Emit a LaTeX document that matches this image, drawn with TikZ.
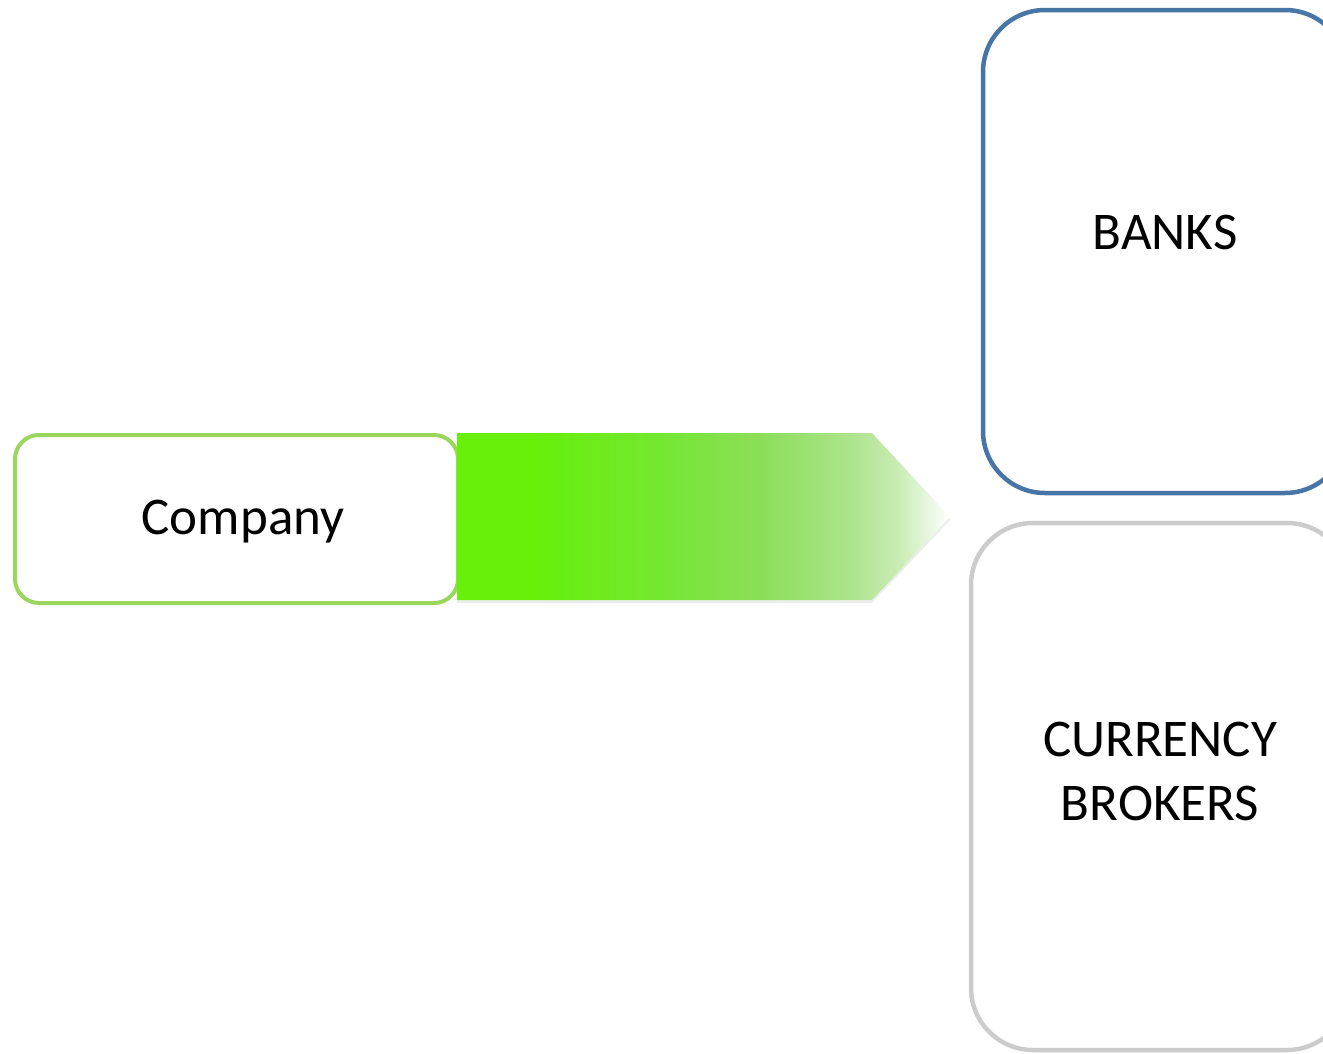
\documentclass[tikz,border=0pt]{standalone}
\usepackage{fontspec}
\setmainfont{Carlito}
\usetikzlibrary{shadows}

% colours
\definecolor{boxgreen}{RGB}{155,214,92}
\definecolor{bankblue}{RGB}{71,117,165}
\definecolor{brokergray}{RGB}{204,204,204}
\definecolor{arrowgreen}{RGB}{102,240,10}
\definecolor{fadeA}{RGB}{115,232,45}
\definecolor{fadeB}{RGB}{140,222,90}
\definecolor{fadeC}{RGB}{172,228,140}
\definecolor{fadeD}{RGB}{202,236,182}

% left-to-right fade of the flow arrow (25bp = left edge, 75bp = tip)
\pgfdeclarehorizontalshading{flowfade}{100bp}{
  color(0bp)=(arrowgreen);
  color(25bp)=(arrowgreen);
  color(32.6bp)=(arrowgreen);
  color(44.7bp)=(fadeA);
  color(55.8bp)=(fadeB);
  color(64.9bp)=(fadeC);
  color(69.9bp)=(fadeD);
  color(75bp)=(white);
  color(100bp)=(white)}

\begin{document}
\begin{tikzpicture}[x=1pt,y=-1pt,
  every node/.style={font=\fontsize{53}{64}\selectfont},
  panel/.style={draw, line width=4.5pt, rounded corners=62pt, fill=white, inner sep=0pt},
  sourcebox/.style={draw=boxgreen, line width=4pt, rounded corners=24pt, fill=white,
    minimum width=443pt, minimum height=168pt, inner sep=0pt},
  caption/.style={align=center, inner sep=0pt}]
\useasboundingbox (0,0) rectangle (1323,1053);

% source
\node[sourcebox] (company) at (236.5,519) {};
\node[caption] (company-text) at (243,522) {Company};

% targets
\node[panel, draw=bankblue, minimum width=364pt, minimum height=483pt] (banks) at (1165,251.5) {};
\node[caption] (banks-text) at ([yshift=19pt]banks.center) {BANKS};

\node[panel, draw=brokergray, minimum width=378pt, minimum height=527pt] (brokers) at (1160,786.5) {};
\node[caption] (brokers-text) at ([yshift=15pt]brokers.center) {CURRENCY\\BROKERS};

% flow arrow out of the company box
\coordinate (tail) at ([xshift=-3pt]company.east);
\coordinate (tip) at (950,517);
\path[shading=flowfade,
      drop shadow={opacity=0.15, shadow xshift=0pt, shadow yshift=-3pt}]
  (tail |- 0,433) -- (872,433) -- (tip) -- (872,600) -- (tail |- 0,600) -- cycle;
\end{tikzpicture}
\end{document}
